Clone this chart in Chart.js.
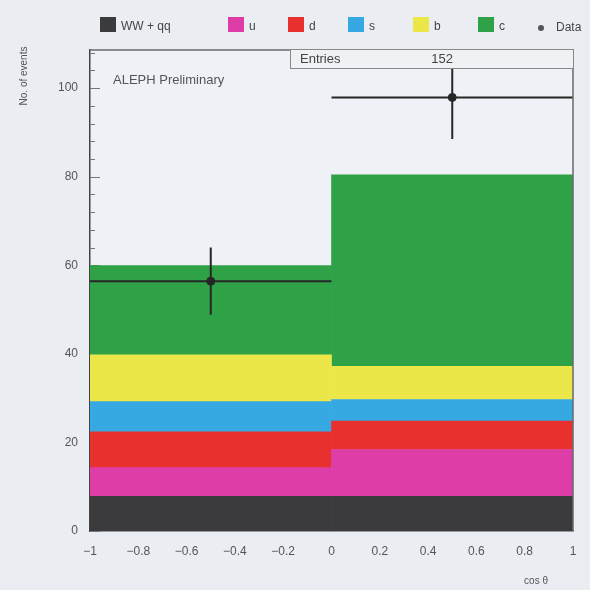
<!DOCTYPE html>
<html>
<head>
<meta charset="utf-8">
<script src="https://cdn.jsdelivr.net/npm/chart.js@4/dist/chart.umd.min.js"></script>
<style>
  html, body { margin: 0; padding: 0; background: #eaedf2; }
  canvas { display: block; }
</style>
</head>
<body>
<canvas id="c" width="590" height="590"></canvas>
<script>
// ---- data ----
const binEdges = [-1, 0, 1];
const binCentres = [-0.5, 0.5];
const seriesNames = ['WW + qq', 'u', 'd', 's', 'b', 'c'];
const wwqq   = [7.8, 7.8];
const uQuark = [6.5, 10.6];
const dQuark = [8.1, 6.4];
const sQuark = [6.8, 4.9];
const bQuark = [10.6, 7.5];
const cQuark = [20.1, 43.2];
const dataValues = [56.4, 97.9];
const dataErrors = [7.6, 9.4];
const dataLabel = 'Data';
const entries = 152;
const xTicks = [-1, -0.8, -0.6, -0.4, -0.2, 0, 0.2, 0.4, 0.6, 0.8, 1];
const xTickLabels = ['\u22121', '\u22120.8', '\u22120.6', '\u22120.4', '\u22120.2', '0', '0.2', '0.4', '0.6', '0.8', '1'];
const yTicks = [0, 20, 40, 60, 80, 100];
const yTickLabels = ['0', '20', '40', '60', '80', '100'];

const colours = ['#3b3b3d', '#de3ca6', '#e8302f', '#36a8e2', '#ece748', '#2fa248'];
const series = [wwqq, uQuark, dQuark, sQuark, bQuark, cQuark];

const FONT = '"Liberation Sans", Arial, sans-serif';

const decor = {
  id: 'decor',
  beforeDraw(chart) {
    const ctx = chart.ctx;
    ctx.save();
    ctx.fillStyle = '#eaedf2';
    ctx.fillRect(0, 0, chart.width, chart.height);
    const a = chart.chartArea;
    ctx.fillStyle = '#eef1f5';
    ctx.fillRect(a.left, a.top, a.right - a.left, a.bottom - a.top);
    ctx.restore();
  },
  beforeDatasetsDraw(chart) {
    const ctx = chart.ctx, y = chart.scales.y, a = chart.chartArea;
    ctx.save();
    ctx.strokeStyle = '#777';
    ctx.lineWidth = 1;
    for (let v = 0; v <= y.max; v += 4) {
      const py = Math.round(y.getPixelForValue(v)) + 0.5;
      const len = (v % 20 === 0) ? 10 : 5;
      ctx.beginPath();
      ctx.moveTo(a.left, py);
      ctx.lineTo(a.left + len, py);
      ctx.stroke();
    }
    ctx.restore();
  },
  afterDatasetsDraw(chart) {
    const ctx = chart.ctx, x = chart.scales.x, y = chart.scales.y;
    ctx.save();
    ctx.strokeStyle = '#262626';
    ctx.lineWidth = 2;
    dataValues.forEach((v, i) => {
      const px = x.getPixelForValue(binCentres[i]);
      const py = y.getPixelForValue(v);
      ctx.beginPath();
      ctx.moveTo(x.getPixelForValue(binEdges[i]), py);
      ctx.lineTo(x.getPixelForValue(binEdges[i + 1]), py);
      ctx.moveTo(px, y.getPixelForValue(v - dataErrors[i]));
      ctx.lineTo(px, y.getPixelForValue(v + dataErrors[i]));
      ctx.stroke();
    });
    ctx.restore();
  },
  afterDraw(chart) {
    const ctx = chart.ctx, a = chart.chartArea;
    ctx.save();
    ctx.strokeStyle = '#6a6a6a';
    ctx.lineWidth = 1.5;
    ctx.beginPath();
    ctx.moveTo(a.left, a.top);
    ctx.lineTo(a.right, a.top);
    ctx.lineTo(a.right, a.bottom);
    ctx.stroke();

    // stats box
    ctx.fillStyle = '#eff1f4';
    ctx.fillRect(290, 49, a.right - 290, 19);
    ctx.strokeStyle = '#888';
    ctx.lineWidth = 1;
    ctx.strokeRect(290.5, 49.5, a.right - 290, 19);
    ctx.fillStyle = '#444';
    ctx.font = '13px ' + FONT;
    ctx.textBaseline = 'middle';
    ctx.textAlign = 'left';
    ctx.fillText('Entries', 300, 59);
    ctx.textAlign = 'right';
    ctx.fillText(String(entries), 453, 59);

    ctx.textAlign = 'left';
    ctx.fillStyle = '#555';
    ctx.font = '13px ' + FONT;
    ctx.fillText('ALEPH Preliminary', 113, 80);

    // legend
    const lx = [100, 228, 288, 348, 413, 478];
    ctx.font = '12px ' + FONT;
    seriesNames.forEach((n, i) => {
      ctx.fillStyle = colours[i];
      ctx.fillRect(lx[i], 17, 16, 15);
      ctx.fillStyle = '#444';
      ctx.fillText(n, lx[i] + 21, 27);
    });
    ctx.fillStyle = '#555';
    ctx.beginPath();
    ctx.arc(541, 28, 3, 0, Math.PI * 2);
    ctx.fill();
    ctx.fillStyle = '#444';
    ctx.fillText(dataLabel, 556, 28);

    // y title
    ctx.save();
    ctx.translate(24, 76);
    ctx.rotate(-Math.PI / 2);
    ctx.textAlign = 'center';
    ctx.fillStyle = '#555';
    ctx.font = '10px ' + FONT;
    ctx.fillText('No. of events', 0, 0);
    ctx.restore();

    // x title
    ctx.textAlign = 'right';
    ctx.fillStyle = '#555';
    ctx.font = '10px ' + FONT;
    ctx.fillText('cos \u03b8', 548, 581);
    ctx.restore();
  }
};

const datasets = series.map((vals, i) => ({
  type: 'bar',
  label: seriesNames[i],
  data: vals.map((v, j) => ({ x: binCentres[j], y: v })),
  backgroundColor: colours[i],
  borderWidth: 0,
  barThickness: 'flex',
  barPercentage: 1,
  categoryPercentage: 1,
  stack: 'mc',
  order: 1
}));
datasets.push({
  type: 'scatter',
  label: dataLabel,
  data: dataValues.map((v, i) => ({ x: binCentres[i], y: v })),
  stack: 'data',
  order: -1,
  pointRadius: 4,
  pointBackgroundColor: '#262626',
  pointBorderColor: '#262626',
  showLine: false
});

new Chart(document.getElementById('c'), {
  type: 'bar',
  data: { datasets },
  options: {
    responsive: false,
    devicePixelRatio: 1,
    animation: false,
    layout: { padding: { top: 50, right: 17, left: 0, bottom: 0 } },
    plugins: { legend: { display: false }, tooltip: { enabled: false } },
    scales: {
      x: {
        type: 'linear', position: 'bottom', min: -1, max: 1, offset: false, stacked: true,
        afterBuildTicks: ax => { ax.ticks = xTicks.map(v => ({ value: v })); },
        afterFit: ax => { ax.height = 59; },
        ticks: {
          callback: (v, i) => xTickLabels[i],
          color: '#555', font: { family: FONT, size: 12 }, padding: 13, maxRotation: 0
        },
        grid: { display: false, drawTicks: false, offset: false },
        border: { display: true, color: '#444', width: 1.5 }
      },
      y: {
        stacked: true, min: 0, max: 108.6,
        afterBuildTicks: ax => { ax.ticks = yTicks.map(v => ({ value: v })); },
        afterFit: ax => { ax.width = 90; },
        ticks: {
          callback: (v, i) => yTickLabels[i],
          color: '#555', font: { family: FONT, size: 12 }, padding: 12
        },
        grid: { display: false, drawTicks: false },
        border: { display: true, color: '#444', width: 1.5 }
      }
    }
  },
  plugins: [decor]
});
</script>
</body>
</html>
